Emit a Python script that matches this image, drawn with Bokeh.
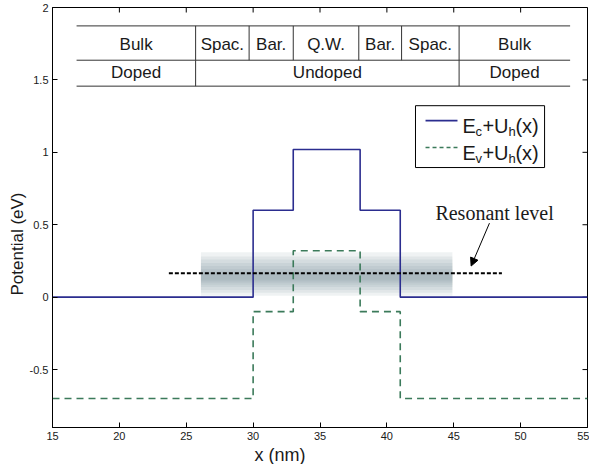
import math
from bokeh.plotting import figure
from bokeh.models import (Range1d, Label, Arrow, NormalHead, Title,
                          FixedTicker, NumeralTickFormatter, ColumnDataSource)
from bokeh.core.properties import value
from bokeh.embed import file_html
from bokeh.resources import INLINE

# ---------------- data ----------------
x_edges = [15, 30, 33, 38, 41, 55]
ec_values = [0.0, 0.6, 1.02, 0.6, 0.0, 0.0]
ev_values = [-0.7, -0.1, 0.32, -0.1, -0.7, -0.7]

resonant_energy = 0.165
resonant_x = [23.7, 48.6]

band_x = [26.1, 44.9]
band_bottoms = [0.01, 0.03, 0.05, 0.07, 0.085, 0.10, 0.11, 0.12]
band_tops = [0.31, 0.28, 0.26, 0.235, 0.215, 0.195, 0.175, 0.16]

x_ticks = [15, 20, 25, 30, 35, 40, 45, 50, 55]
y_ticks = [-0.5, 0, 0.5, 1, 1.5, 2]
x_lim = (15, 55)
y_lim = (-0.9, 2)

table_bounds_row1 = [16.8, 25.7, 29.7, 33.0, 37.9, 41.1, 45.4, 53.7]
table_labels_row1 = ["Bulk", "Spac.", "Bar.", "Q.W.", "Bar.", "Spac.", "Bulk"]
table_bounds_row2 = [16.8, 25.7, 45.4, 53.7]
table_labels_row2 = ["Doped", "Undoped", "Doped"]
table_line_y = [1.873, 1.636, 1.457]
table_text_y = [1.742, 1.55]

legend_labels = [("E", "c", "+U", "h", "(x)"), ("E", "v", "+U", "h", "(x)")]

# ---------------- styles ----------------
EC_COLOR = "#2b2d8f"
EV_COLOR = "#3b7a5a"
TXT = "#1a1a1a"
SANS = "Liberation Sans"

p = figure(width=589, height=464, x_range=Range1d(*x_lim), y_range=Range1d(*y_lim),
           output_backend="svg", toolbar_location=None,
           min_border_left=52, min_border_right=2, min_border_top=7, min_border_bottom=36)
p.xgrid.visible = False
p.ygrid.visible = False
p.outline_line_color = "black"
p.outline_line_width = 1
p.background_fill_color = "white"
p.border_fill_color = "white"

def style_axis(ax, ticks, fmt=None):
    ax.ticker = FixedTicker(ticks=ticks)
    ax.major_tick_in = 5
    ax.major_tick_out = 0
    ax.minor_tick_in = 0
    ax.minor_tick_out = 0
    ax.axis_line_color = "black"
    ax.major_tick_line_color = "black"
    ax.major_label_text_font = SANS
    ax.major_label_text_font_size = "11px"
    ax.major_label_text_color = TXT
    ax.major_label_standoff = 4
    if fmt is not None:
        ax.formatter = fmt

style_axis(p.xaxis[0], x_ticks)
style_axis(p.yaxis[0], y_ticks, fmt=NumeralTickFormatter(format="0.[0]"))

# mirrored inward ticks on the top and right edges of the box
p.ray(x=x_ticks, y=[y_lim[1]] * len(x_ticks), length=5, length_units="screen",
      angle=-math.pi / 2, line_color="black", line_width=1)
p.ray(x=[x_lim[1]] * len(y_ticks), y=y_ticks, length=5, length_units="screen",
      angle=math.pi, line_color="black", line_width=1)

# axis labels (offset from the centre, as in the original)
p.add_layout(Title(text="x (nm)", align="left", offset=202, standoff=0,
                   text_font=SANS, text_font_size="18px", text_font_style="normal",
                   text_color=TXT), "below")
p.add_layout(Title(text="Potential (eV)", align="left", offset=132, standoff=0,
                   text_font=SANS, text_font_size="17px", text_font_style="normal",
                   text_color=TXT), "left")

# shaded band around the resonant level (nested translucent layers)
for b, t in zip(band_bottoms, band_tops):
    p.quad(left=[band_x[0]], right=[band_x[1]], bottom=[b], top=[t],
           fill_color="#8797a6", fill_alpha=0.13, line_color=None)

# potential profiles
p.step(x_edges, ec_values, mode="after", line_color=EC_COLOR, line_width=1.6)
p.step(x_edges, ev_values, mode="after", line_color=EV_COLOR, line_width=1.6, line_dash="7 5")

# resonant level
p.line(resonant_x, [resonant_energy, resonant_energy], line_color="black", line_width=2.2,
       line_dash="4 2")
p.add_layout(Arrow(end=NormalHead(size=8, fill_color="black", line_color="black", line_width=1),
                   x_start=47.67, y_start=0.511, x_end=46.30, y_end=0.215,
                   line_color="black", line_width=1))
p.add_layout(Label(x=48.05, y=0.584, text="Resonant level", text_align="center",
                   text_baseline="alphabetic", text_font="Liberation Serif",
                   text_font_size="20px", text_color=TXT))

# table
seg_x0, seg_x1, seg_y0, seg_y1 = [], [], [], []
for y in table_line_y:
    seg_x0.append(table_bounds_row1[0]); seg_x1.append(table_bounds_row1[-1])
    seg_y0.append(y); seg_y1.append(y)
for b in table_bounds_row1[1:-1]:
    seg_x0.append(b); seg_x1.append(b); seg_y0.append(table_line_y[1]); seg_y1.append(table_line_y[0])
for b in table_bounds_row2[1:-1]:
    seg_x0.append(b); seg_x1.append(b); seg_y0.append(table_line_y[2]); seg_y1.append(table_line_y[1])
p.segment(seg_x0, seg_y0, seg_x1, seg_y1, line_color="#333333", line_width=1)

def centers(bounds):
    return [(bounds[i] + bounds[i + 1]) / 2 for i in range(len(bounds) - 1)]

tsrc = ColumnDataSource(dict(
    x=centers(table_bounds_row1) + centers(table_bounds_row2),
    y=[table_text_y[0]] * len(table_labels_row1) + [table_text_y[1]] * len(table_labels_row2),
    t=table_labels_row1 + table_labels_row2))
p.text(x="x", y="y", text="t", source=tsrc, text_align="center", text_baseline="middle",
       text_font=value(SANS), text_font_size="17px", text_color=TXT)

# legend (manual, to allow subscripts)
p.quad(left=[42.14], right=[51.79], bottom=[0.895], top=[1.322], fill_color="white",
       line_color="black", line_width=1)
leg_rows_y = [1.182, 0.997]
leg_line_y = [1.219, 1.033]
p.line([42.89, 45.28], [leg_line_y[0]] * 2, line_color=EC_COLOR, line_width=1.6)
p.line([42.89, 45.28], [leg_line_y[1]] * 2, line_color=EV_COLOR, line_width=1.6, line_dash="4 3")
piece_dx = [0, 13, 20, 46, 53]
for row, yb in zip(legend_labels, leg_rows_y):
    for k, (txt, dx) in enumerate(zip(row, piece_dx)):
        sub = k in (1, 3)
        p.add_layout(Label(x=45.65, y=yb, x_offset=dx, y_offset=-6 if sub else 0, text=txt,
                           text_align="left", text_baseline="alphabetic", text_font=SANS,
                           text_font_size="13px" if sub else "20px", text_color=TXT))

open("out.html", "w").write(file_html(p, INLINE))
